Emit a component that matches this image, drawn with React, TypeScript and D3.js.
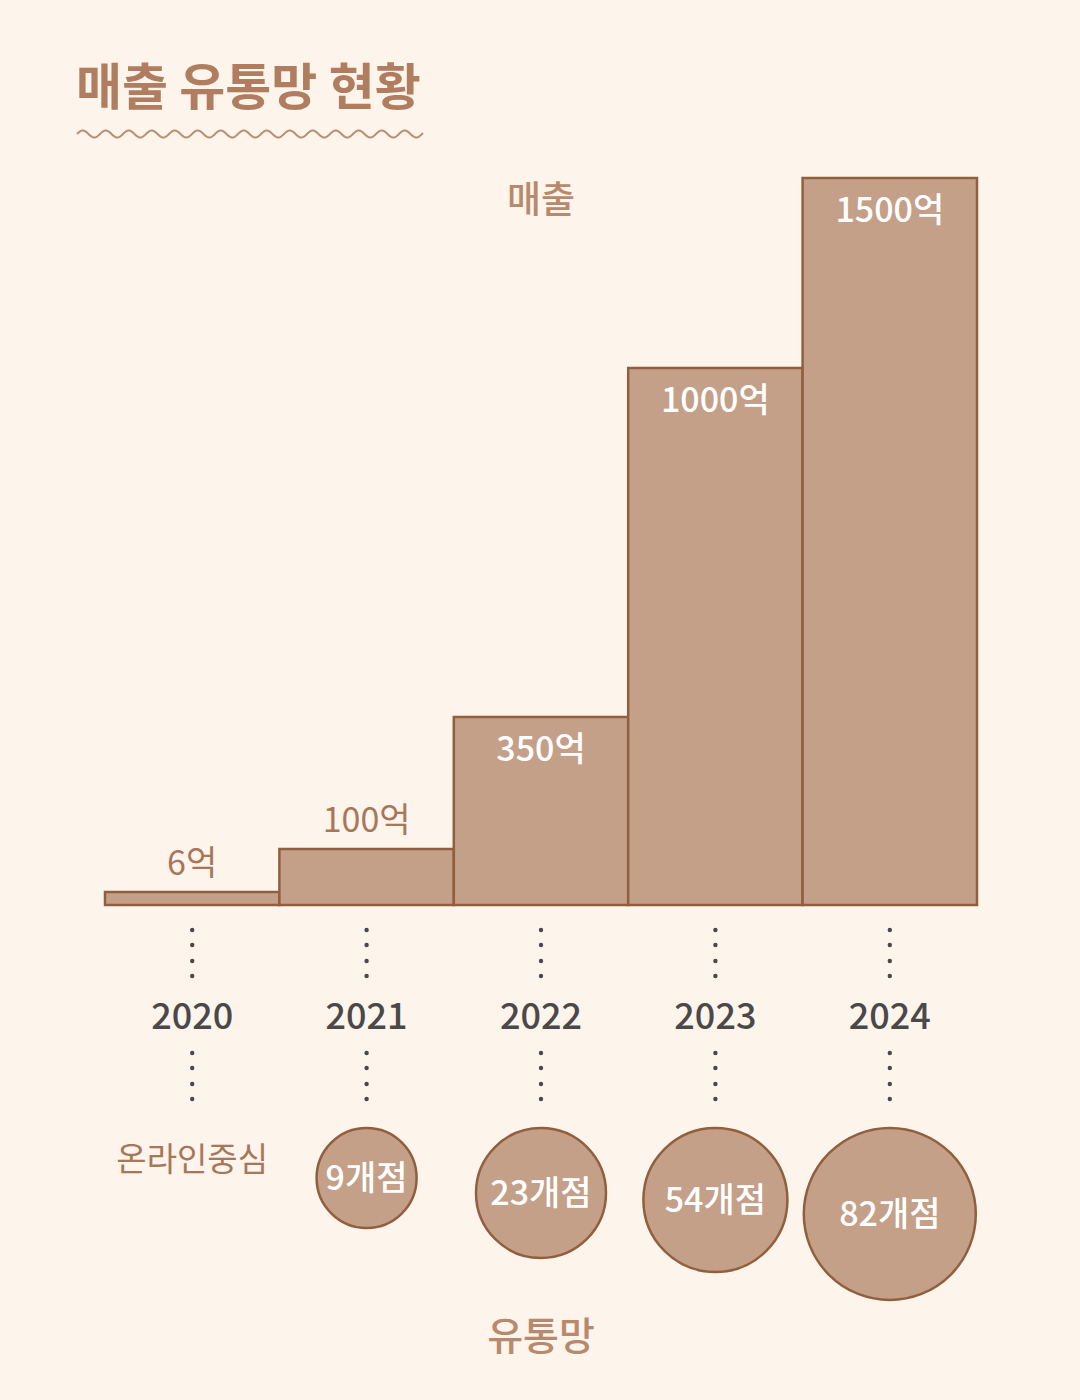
import React from "react";
import * as d3 from "d3";

const years = ["2020", "2021", "2022", "2023", "2024"];
const sales = [6, 100, 350, 1000, 1500];
const salesLabels = ["6억", "100억", "350억", "1000억", "1500억"];
const stores = [0, 9, 23, 54, 82];
const storeLabels = ["온라인중심", "9개점", "23개점", "54개점", "82개점"];

const W = 1080, H = 1400;
const BG = "#fdf4ec";
const FILL = "#c4a089";
const STROKE = "#915f3e";
const BROWN = "#a8775a";
const TITLE = "#b07d60";
const GRAY = "#4a4848";
const FONT = "'Noto Sans CJK KR', 'Noto Sans', sans-serif";

export default function App() {
  const x = d3.scaleBand<string>().domain(years).range([105, 977]).padding(0);
  const baseY = 905;
  // the infographic uses a non-proportional (piecewise) height scale
  const h = d3.scaleLinear().domain([0, 6, 100, 350, 1000, 1500]).range([0, 13, 56, 188, 537, 727]);
  const r = d3.scaleLinear().domain([9, 23, 54, 82]).range([50, 65, 72, 86]);
  const circleTop = 1128;

  // wavy underline
  const waveX0 = 77, waveX1 = 423, period = 23, amp = 3.5, waveY = 134;
  const wavePts: [number, number][] = d3.range(waveX0, waveX1 + 0.5, 1).map((px) => [
    px,
    waveY - amp * Math.sin(((px - waveX0) / period) * 2 * Math.PI),
  ]);
  const wavePath = d3.line()(wavePts) || "";

  const dotsAbove = [930, 945, 961, 976];
  const dotsBelow = [1053, 1068, 1084, 1099];

  return (
    <svg width={W} height={H} style={{ display: "block", position: "absolute", left: 0, top: 0 }} fontFamily={FONT}>
      <rect x={0} y={0} width={W} height={H} fill={BG} />
      <text x={76} y={105} fontSize={50} fontWeight={700} fill={TITLE} letterSpacing={0}>
        매출 유통망 현황
      </text>
      <path d={wavePath} fill="none" stroke="#b98e73" strokeWidth={2} />

      <text x={541} y={213} textAnchor="middle" fontSize={37} fontWeight={500} fill="#b88a6d">
        매출
      </text>

      {years.map((y, i) => {
        const x0 = x(y)!;
        const bw = x.bandwidth();
        const top = baseY - h(sales[i]);
        const inside = h(sales[i]) > 100;
        const cx = x0 + bw / 2;
        return (
          <g key={y}>
            <rect x={x0} y={top} width={bw} height={baseY - top} fill={FILL} stroke={STROKE} strokeWidth={2.5} />
            <text
              x={cx}
              y={inside ? top + 44 : top - 17}
              textAnchor="middle"
              fontSize={34}
              fontWeight={inside ? 500 : 400}
              fill={inside ? "#ffffff" : BROWN}
              letterSpacing={0}
            >
              {salesLabels[i]}
            </text>
            {dotsAbove.map((dy) => (
              <circle key={"a" + dy} cx={cx} cy={dy} r={2.2} fill={GRAY} />
            ))}
            <text x={cx} y={1029} textAnchor="middle" fontSize={36} fontWeight={500} fill={GRAY} letterSpacing={0}>
              {y}
            </text>
            {dotsBelow.map((dy) => (
              <circle key={"b" + dy} cx={cx} cy={dy} r={2.2} fill={GRAY} />
            ))}
            {stores[i] > 0 ? (
              <g>
                <circle cx={cx} cy={circleTop + r(stores[i])} r={r(stores[i])} fill={FILL} stroke={STROKE} strokeWidth={2.5} />
                <text
                  x={cx}
                  y={circleTop + r(stores[i]) + 12}
                  textAnchor="middle"
                  fontSize={34}
                  fontWeight={500}
                  fill="#ffffff"
                  letterSpacing={0}
                >
                  {storeLabels[i]}
                </text>
              </g>
            ) : (
              <text x={cx} y={1171} textAnchor="middle" fontSize={33} fontWeight={400} fill={BROWN} letterSpacing={0}>
                {storeLabels[i]}
              </text>
            )}
          </g>
        );
      })}

      <text x={541} y={1350} textAnchor="middle" fontSize={39} fontWeight={500} fill="#b88a6d">
        유통망
      </text>
    </svg>
  );
}
